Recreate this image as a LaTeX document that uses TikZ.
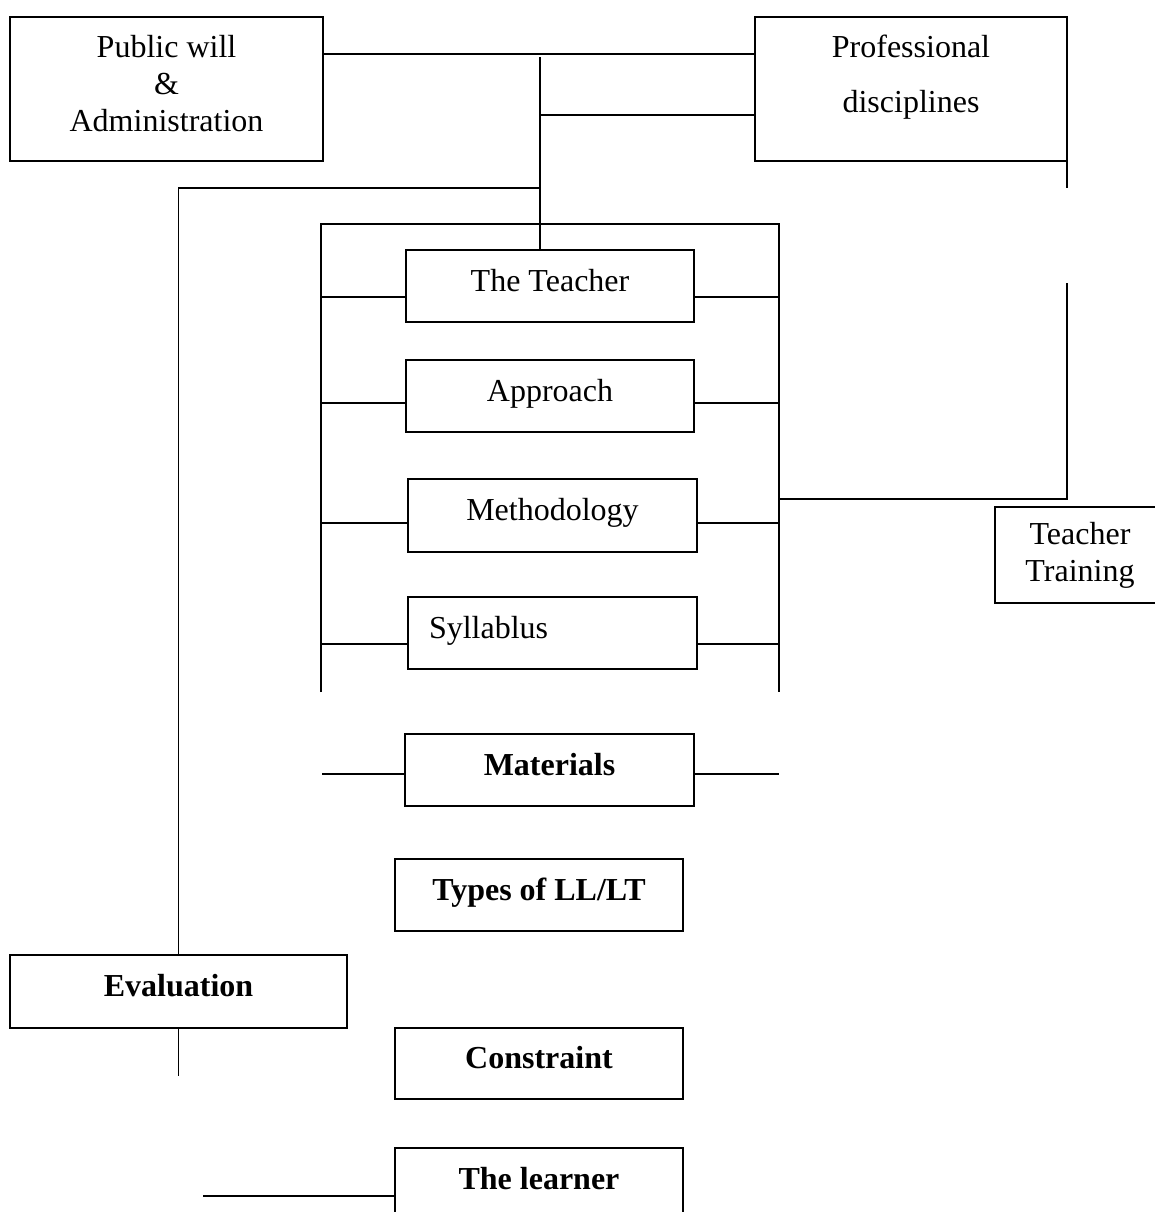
\documentclass[tikz,border=0pt]{standalone}
\usepackage{fontspec}
\setmainfont{Liberation Serif}
\tikzset{
  headbox/.style={draw, inner sep=0pt, outer sep=0pt, align=center, font=\fontsize{16}{18.5}\selectfont},
  partbox/.style={draw, inner sep=0pt, outer sep=0pt, font=\fontsize{16}{18.5}\selectfont, text height=11pt, text depth=6pt},
  boldpart/.style={partbox, font=\fontsize{16}{18.5}\selectfont\bfseries}
}
\begin{document}
\begin{tikzpicture}[x=0.5pt, y=-0.5pt, line width=0.8pt]
\useasboundingbox (0,0) rectangle (1155,1212);

% Top boxes
\node[headbox, minimum width=156.5pt, minimum height=72pt] (pub) at (166.5,89) {Public will\\ \&\\ Administration\\[-12.5pt]\mbox{}};
\node[headbox, minimum width=156pt, minimum height=72pt] (prof) at (911,89) {Professional\\[9pt]disciplines\\[-3pt]\mbox{}};
\node[headbox, minimum width=85pt, minimum height=48pt] (train) at (1080,555) {Teacher\\Training};

% Inner column
\node[partbox, minimum width=144pt, minimum height=36pt] (teach) at (550,286) {The Teacher};
\node[partbox, minimum width=144pt, minimum height=36pt] (appr) at (550,396) {Approach};
\node[partbox, minimum width=144.5pt, minimum height=36.5pt] (meth) at (552.5,515.5) {Methodology};
\node[partbox, minimum height=36pt, text width=123.5pt, inner xsep=10.5pt, align=left] (syll) at (552.5,633) {Syllablus};

% Bold boxes
\node[boldpart, minimum width=144.5pt, minimum height=36pt] (mat) at (549.5,770) {Materials};
\node[boldpart, minimum width=144pt, minimum height=36pt] (types) at (539,895) {Types of LL/LT};
\node[boldpart, minimum width=168.5pt, minimum height=36.5pt] (eval) at (178.5,991.5) {Evaluation};
\node[boldpart, minimum width=144pt, minimum height=35.5pt] (cons) at (539,1063.5) {Constraint};
\node[boldpart, minimum width=144pt, minimum height=36pt] (learn) at (539,1184) {The learner};

% Joints
\coordinate (spine) at (540,57);
\coordinate (fork) at (540,115);
\coordinate (evalfork) at (540,188);
\coordinate (frameTop) at (540,224);
\coordinate (frameL) at (321,692);
\coordinate (frameR) at (779,692);
\coordinate (profTail) at (1067,188);
\coordinate (trainTop) at (1067,283);
\coordinate (trainJoin) at (1067,499);
\coordinate (matL) at (322,774);
\coordinate (matR) at (779,774);
\coordinate (evalTail) at (179,1076);
\coordinate (learnL) at (203,1196);

% Connectors
\draw ([yshift=-18.5pt]pub.north east) -- ([yshift=-18.5pt]prof.north west);
\draw (spine) -- (spine |- teach.north);
\draw (fork) -- (fork -| prof.west);
\draw (evalfork) -| (eval.north);
\draw (frameL) |- (frameTop) -| (frameR);
\foreach \n/\d in {teach/5.5, appr/3.5, meth/3.75, syll/5.5} {
  \path ([yshift=-\d pt]\n.west) coordinate (\n-l) ([yshift=-\d pt]\n.east) coordinate (\n-r);
  \draw (frameL |- \n-l) -- (\n-l);
  \draw (\n-r) -- (frameR |- \n-r);
}
\draw (prof.south east) -- (prof.south east |- profTail);
\draw (trainTop) -- (trainJoin) -- (frameR |- trainJoin);
\draw (matL) -- (matL -| mat.west);
\draw (mat.east |- matR) -- (matR);
\draw (eval.south) -- (eval.south |- evalTail);
\draw (learnL) -- (learnL -| learn.west);
\end{tikzpicture}
\end{document}
